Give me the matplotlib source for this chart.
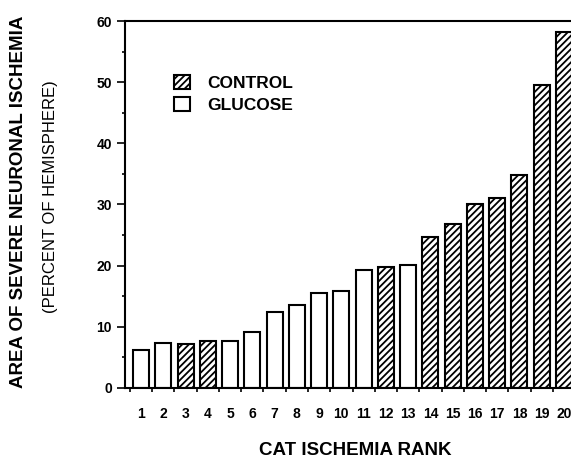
import matplotlib
matplotlib.use("Agg")
import matplotlib.pyplot as plt
from matplotlib.patches import Patch
from matplotlib.ticker import MultipleLocator, FixedLocator

plt.rcParams['font.family'] = ['Liberation Sans', 'DejaVu Sans']
plt.rcParams['hatch.linewidth'] = 1.3

ranks = list(range(1, 21))
values = [6.2, 7.3, 7.2, 7.7, 7.7, 9.2, 12.4, 13.6, 15.5, 15.8,
          19.3, 19.8, 20.1, 24.7, 26.8, 30.0, 31.1, 34.8, 49.5, 58.2]
groups = ['G', 'G', 'C', 'C', 'G', 'G', 'G', 'G', 'G', 'G',
          'G', 'C', 'G', 'C', 'C', 'C', 'C', 'C', 'C', 'C']
legend_labels = ['CONTROL', 'GLUCOSE']
y_ticks = [0, 10, 20, 30, 40, 50, 60]

fig = plt.figure(figsize=(5.71, 4.58), dpi=100)
ax = fig.add_axes([0.219, 0.153, 0.792, 0.801])

for r, v, g in zip(ranks, values, groups):
    ax.bar(r, v, width=0.72, facecolor='white', edgecolor='black',
           linewidth=1.5, hatch='/////' if g == 'C' else None)

ax.set_xlim(0.28, 20.6)
ax.set_ylim(0, 60)
ax.set_yticks(y_ticks)
ax.yaxis.set_minor_locator(MultipleLocator(5))
ax.set_xticks(ranks)
ax.set_xticklabels([str(r) for r in ranks])
ax.xaxis.set_minor_locator(FixedLocator([r + 0.5 for r in range(0, 21)]))

ax.tick_params(axis='x', which='major', length=0, pad=14, labelsize=10)
ax.tick_params(axis='x', which='minor', length=3, width=1.2, direction='out')
ax.tick_params(axis='y', which='major', length=5.5, width=1.2, direction='out', labelsize=10, pad=4)
ax.tick_params(axis='y', which='minor', length=2.5, width=1.2, direction='out')
for lbl in ax.get_xticklabels() + ax.get_yticklabels():
    lbl.set_fontweight('bold')

for s in ['left', 'bottom', 'top']:
    ax.spines[s].set_linewidth(1.5)
ax.spines['right'].set_visible(False)

handles = [Patch(facecolor='white', edgecolor='black', linewidth=1.5, hatch='/////'),
           Patch(facecolor='white', edgecolor='black', linewidth=1.5)]
ax.legend(handles, legend_labels, loc='upper left', bbox_to_anchor=(0.108, 0.853),
          frameon=False, borderpad=0, borderaxespad=0,
          handlelength=0.9, handleheight=0.9, handletextpad=1.0,
          labelspacing=0.32, prop={'weight': 'bold', 'size': 12.5})

fig.text(0.032, 0.559, 'AREA OF SEVERE NEURONAL ISCHEMIA', rotation=90,
         ha='center', va='center', fontsize=13.5, fontweight='bold')
fig.text(0.088, 0.57, '(PERCENT OF HEMISPHERE)', rotation=90,
         ha='center', va='center', fontsize=12)
fig.text(0.623, 0.017, 'CAT ISCHEMIA RANK', ha='center', va='center',
         fontsize=13.5, fontweight='bold')

fig.savefig('out.png', dpi=100)
